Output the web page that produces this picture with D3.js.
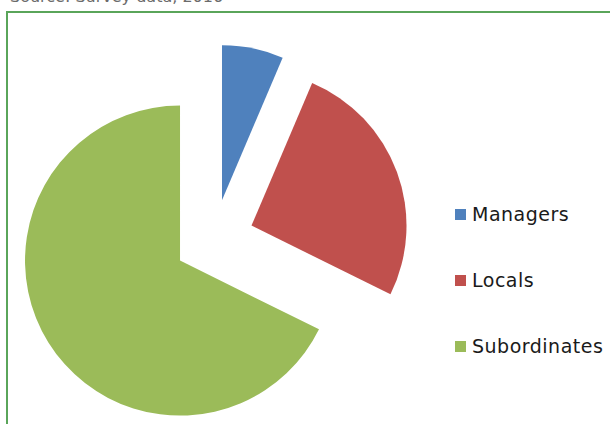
<!DOCTYPE html>
<html>
<head>
<meta charset="utf-8">
<script src="https://cdn.jsdelivr.net/npm/d3@7"></script>
<style>
  html, body { margin: 0; padding: 0; background: #fff; overflow: hidden; }
  svg { display: block; }
</style>
</head>
<body>
<svg id="chart" width="610" height="424"></svg>
<script>
const categories = ["Managers", "Locals", "Subordinates"];
const values = [6.4, 25.9, 67.7];
const colors = ["#4f81bd", "#c0504d", "#9bbb59"];
const sourceText = "Source: Survey data, 2016";

const svg = d3.select("#chart");

// source line, cut off at the very top as in the reference
svg.append("text")
  .attr("x", 10).attr("y", 1.5)
  .attr("font-family", "DejaVu Sans")
  .attr("font-size", 16)
  .attr("fill", "#6b6b6b")
  .text(sourceText);

// chart frame
svg.append("rect")
  .attr("x", 7).attr("y", 12)
  .attr("width", 700).attr("height", 500)
  .attr("fill", "none")
  .attr("stroke", "#5aa55a")
  .attr("stroke-width", 2);

const cx = 214, cy = 239.5, r = 155, explode = 40;

const pie = d3.pie().sort(null).value(d => d);
const arc = d3.arc().innerRadius(0).outerRadius(r);
const arcs = pie(values);

const g = svg.append("g").attr("transform", `translate(${cx},${cy})`);
g.selectAll("path")
  .data(arcs)
  .join("path")
  .attr("d", arc)
  .attr("fill", (d, i) => colors[i])
  .attr("transform", d => {
    const a = (d.startAngle + d.endAngle) / 2;
    return `translate(${explode * Math.sin(a)},${-explode * Math.cos(a)})`;
  });

// legend
const legend = svg.append("g");
const baseY = 221, step = 66;
categories.forEach((c, i) => {
  const y = baseY + i * step;
  legend.append("rect")
    .attr("x", 455).attr("y", y - 12)
    .attr("width", 11).attr("height", 11)
    .attr("fill", colors[i]);
  legend.append("text")
    .attr("x", 472).attr("y", y)
    .attr("font-family", "DejaVu Sans")
    .attr("font-size", 19)
    .attr("letter-spacing", 0.5)
    .attr("fill", "#1a1a1a")
    .text(c);
});
</script>
</body>
</html>
